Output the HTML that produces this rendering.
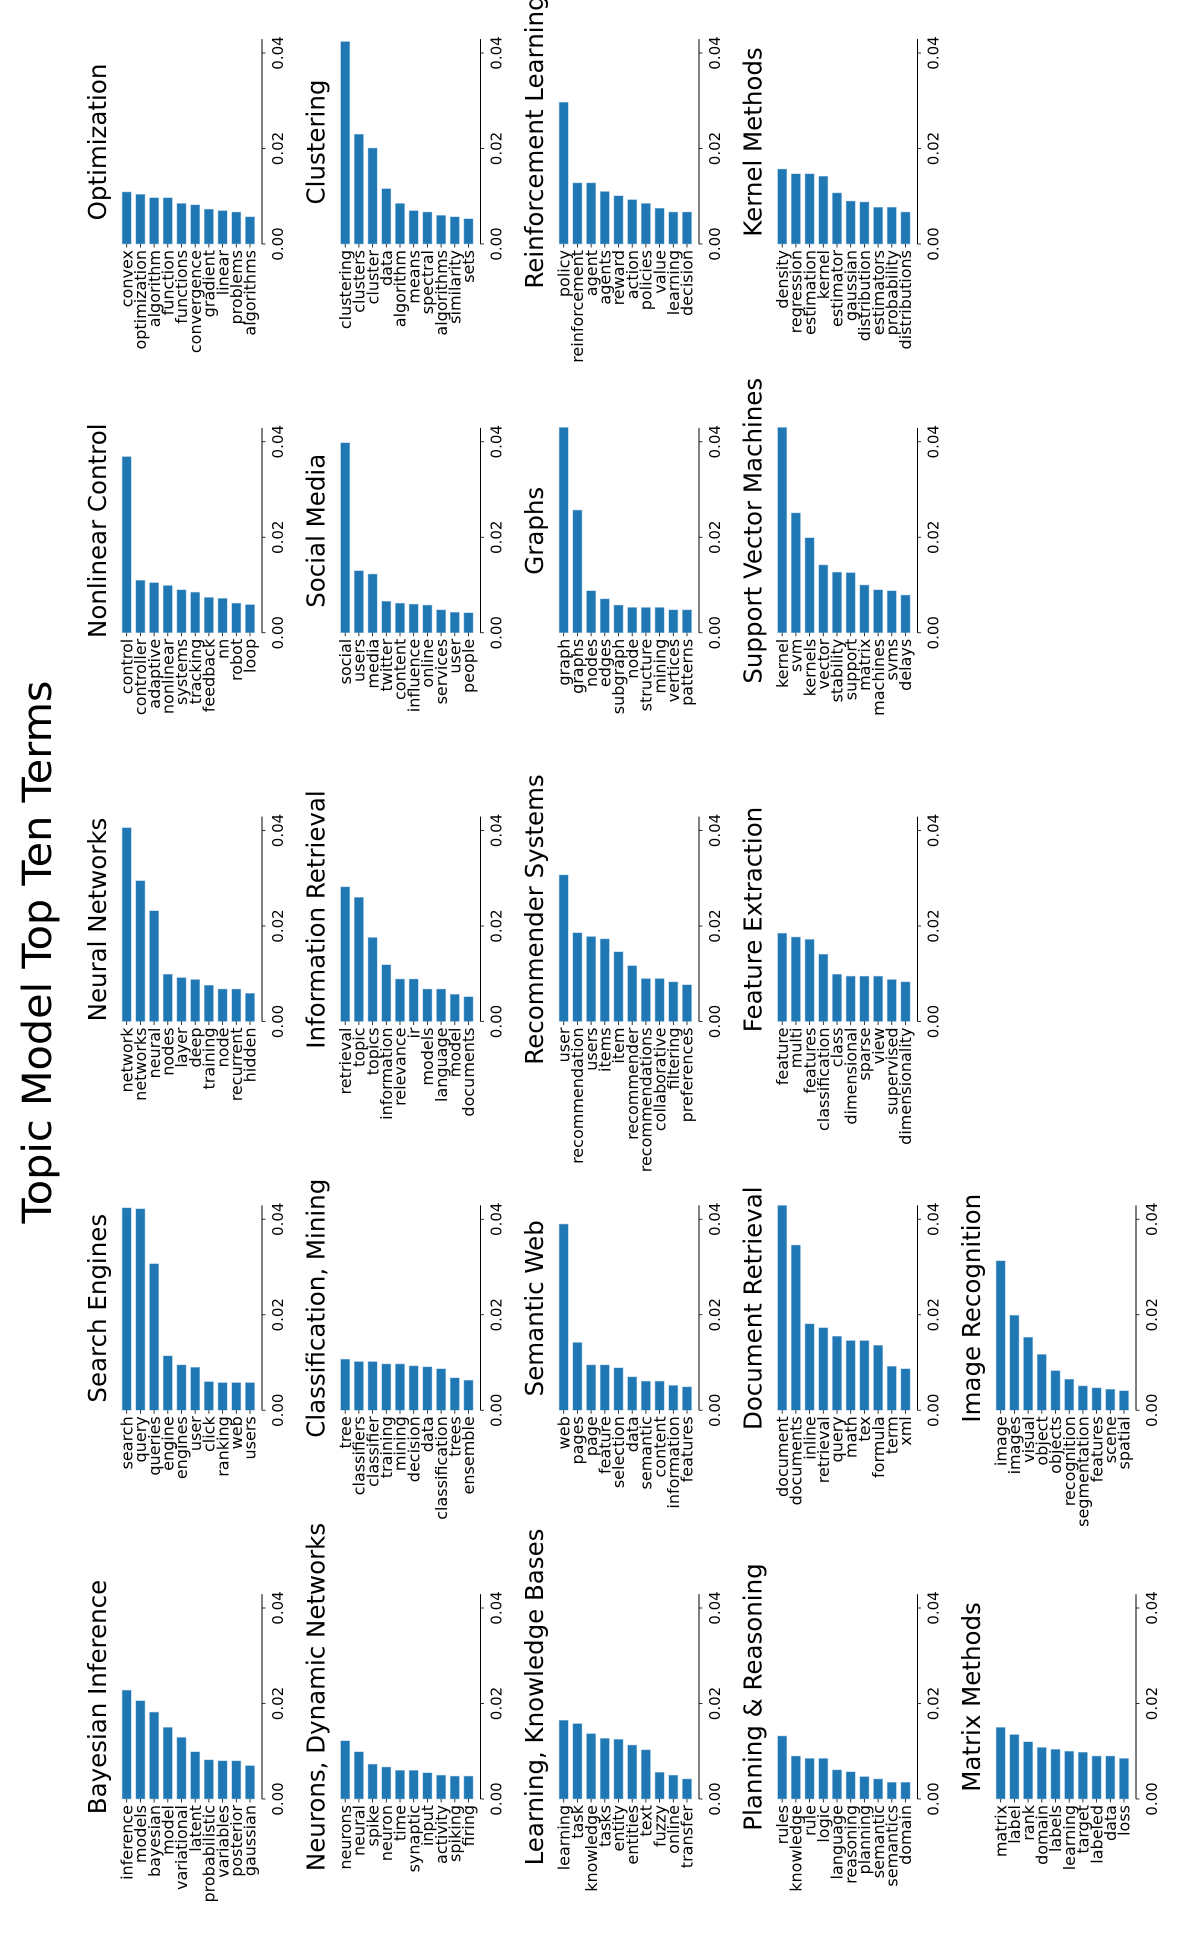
<!DOCTYPE html>
<html><head><meta charset="utf-8"><style>
html,body{margin:0;padding:0;background:#fff;}
svg{display:block;font-family:"DejaVu Sans","Liberation Sans",sans-serif;}
</style></head><body>
<svg id="fig" width="1196" height="1942" viewBox="0 0 1196 1942" xmlns="http://www.w3.org/2000/svg">
<g id="root" transform="translate(0,1942) rotate(-90)">
<text x="990" y="51" font-size="40" text-anchor="middle" fill="#000" textLength="543" lengthAdjust="spacingAndGlyphs">Topic Model Top Ten Terms</text>
</g>
</svg>
<script>
const titles = ["Bayesian Inference","Search Engines","Neural Networks","Nonlinear Control","Optimization",
"Neurons, Dynamic Networks","Classification, Mining","Information Retrieval","Social Media","Clustering",
"Learning, Knowledge Bases","Semantic Web","Recommender Systems","Graphs","Reinforcement Learning",
"Planning & Reasoning","Document Retrieval","Feature Extraction","Support Vector Machines","Kernel Methods",
"Matrix Methods","Image Recognition"];
const terms = [
["inference","models","bayesian","model","variational","latent","probabilistic","variables","posterior","gaussian"],
["search","query","queries","engine","engines","user","click","ranking","web","users"],
["network","networks","neural","nodes","layer","deep","training","node","recurrent","hidden"],
["control","controller","adaptive","nonlinear","systems","tracking","feedback","nn","robot","loop"],
["convex","optimization","algorithm","function","functions","convergence","gradient","linear","problems","algorithms"],
["neurons","neural","spike","neuron","time","synaptic","input","activity","spiking","firing"],
["tree","classifiers","classifier","training","mining","decision","data","classification","trees","ensemble"],
["retrieval","topic","topics","information","relevance","ir","models","language","model","documents"],
["social","users","media","twitter","content","influence","online","services","user","people"],
["clustering","clusters","cluster","data","algorithm","means","spectral","algorithms","similarity","sets"],
["learning","task","knowledge","tasks","entity","entities","text","fuzzy","online","transfer"],
["web","pages","page","feature","selection","data","semantic","content","information","features"],
["user","recommendation","users","items","item","recommender","recommendations","collaborative","filtering","preferences"],
["graph","graphs","nodes","edges","subgraph","node","structure","mining","vertices","patterns"],
["policy","reinforcement","agent","agents","reward","action","policies","value","learning","decision"],
["rules","knowledge","rule","logic","language","reasoning","planning","semantic","semantics","domain"],
["document","documents","inline","retrieval","query","math","tex","formula","term","xml"],
["feature","multi","features","classification","class","dimensional","sparse","view","supervised","dimensionality"],
["kernel","svm","kernels","vector","stability","support","matrix","machines","svms","delays"],
["density","regression","estimation","kernel","estimator","gaussian","distribution","estimators","probability","distributions"],
["matrix","label","rank","domain","labels","learning","target","labeled","data","loss"],
["image","images","visual","object","objects","recognition","segmentation","features","scene","spatial"]];
const values = [
[0.0228,0.0206,0.0182,0.0150,0.0129,0.0099,0.0082,0.0080,0.0080,0.0070],
[0.0424,0.0422,0.0307,0.0114,0.0095,0.0090,0.0060,0.0058,0.0058,0.0058],
[0.0406,0.0295,0.0232,0.0099,0.0092,0.0088,0.0076,0.0068,0.0068,0.0059],
[0.0369,0.0110,0.0105,0.0099,0.0090,0.0085,0.0074,0.0072,0.0062,0.0059],
[0.0109,0.0104,0.0097,0.0097,0.0085,0.0082,0.0073,0.0070,0.0067,0.0057],
[0.0122,0.0099,0.0073,0.0067,0.0060,0.0060,0.0055,0.0050,0.0048,0.0048],
[0.0107,0.0102,0.0102,0.0097,0.0097,0.0093,0.0091,0.0087,0.0068,0.0063],
[0.0282,0.0260,0.0176,0.0119,0.0089,0.0089,0.0068,0.0068,0.0057,0.0052],
[0.0398,0.0130,0.0123,0.0066,0.0062,0.0060,0.0058,0.0048,0.0043,0.0042],
[0.0424,0.0230,0.0201,0.0116,0.0085,0.0070,0.0067,0.0060,0.0057,0.0053],
[0.0165,0.0158,0.0137,0.0127,0.0125,0.0113,0.0103,0.0056,0.0050,0.0042],
[0.0390,0.0142,0.0095,0.0095,0.0089,0.0070,0.0061,0.0061,0.0052,0.0049],
[0.0307,0.0186,0.0178,0.0173,0.0146,0.0117,0.0090,0.0090,0.0083,0.0077],
[0.0430,0.0257,0.0088,0.0071,0.0058,0.0053,0.0053,0.0053,0.0048,0.0048],
[0.0297,0.0128,0.0128,0.0110,0.0101,0.0093,0.0085,0.0075,0.0067,0.0067],
[0.0132,0.0090,0.0085,0.0085,0.0061,0.0057,0.0047,0.0042,0.0035,0.0035],
[0.0429,0.0346,0.0181,0.0173,0.0155,0.0146,0.0146,0.0136,0.0092,0.0087],
[0.0185,0.0177,0.0172,0.0141,0.0099,0.0095,0.0095,0.0095,0.0088,0.0083],
[0.0430,0.0251,0.0199,0.0142,0.0127,0.0126,0.0100,0.0090,0.0088,0.0079],
[0.0157,0.0147,0.0147,0.0142,0.0107,0.0090,0.0088,0.0077,0.0077,0.0067],
[0.0150,0.0135,0.0120,0.0108,0.0104,0.0100,0.0098,0.0090,0.0090,0.0085],
[0.0313,0.0199,0.0153,0.0117,0.0083,0.0065,0.0051,0.0047,0.0044,0.0041]];
const xTicks = [0, 0.02, 0.04];
const xTickLabels = ["0.00","0.02","0.04"];
const xMax = 0.0429;

const NS = "http://www.w3.org/2000/svg";
const root = document.getElementById("root");
const PXU = 4775;
function mk(tag, attrs, parent){
  const e = document.createElementNS(NS, tag);
  for (const k in attrs) e.setAttribute(k, attrs[k]);
  parent.appendChild(e);
  return e;
}
titles.forEach((t, p) => {
  const r = Math.floor(p / 5), c = p % 5;
  const X0 = 1698 - (4 - c) * 388.75;
  const axisY = 262 + r * 218.5;
  const xs = v => X0 + v * PXU;
  const ys = i => axisY - 135.3 + i * 13.7;
  const g = mk("g", {}, root);
  
  
  const tt = mk("text", {x: X0 + 102, y: axisY - 156, "font-size": 24.5, "text-anchor": "middle", fill: "#000"}, g);
  tt.textContent = t;
  
  
  values[p].forEach((v, i) => {
    const cy = ys(i);
    const b = mk("rect", {x: xs(0), y: cy - 4.6, width: xs(v) - xs(0), height: 9.2, fill: "#1f77b4", stroke: "#a6c8e4", "stroke-width": 0.5}, g);
    
    
    const tk = mk("line", {x1: X0 - 3.5, x2: X0, y1: cy, y2: cy, stroke: "#000", "stroke-width": 0.8}, g);
    
    
    const lb = mk("text", {x: X0 - 6, y: cy + 5.7, "font-size": 16, "text-anchor": "end", fill: "#000"}, g);
    lb.textContent = terms[p][i];
    
    
  });
  const sp = mk("line", {x1: xs(0), x2: xs(xMax), y1: axisY, y2: axisY, stroke: "#000", "stroke-width": 1}, g);
  
  
  xTicks.forEach((v, k) => {
    const tl = mk("line", {x1: xs(v), x2: xs(v), y1: axisY, y2: axisY + 3.5, stroke: "#000", "stroke-width": 0.8}, g);
    
    
    const tx = mk("text", {x: xs(v), y: axisY + 21, "font-size": 15, "text-anchor": "middle", fill: "#000"}, g);
    tx.textContent = xTickLabels[k];
    
    
  });
});
</script>
</body></html>
